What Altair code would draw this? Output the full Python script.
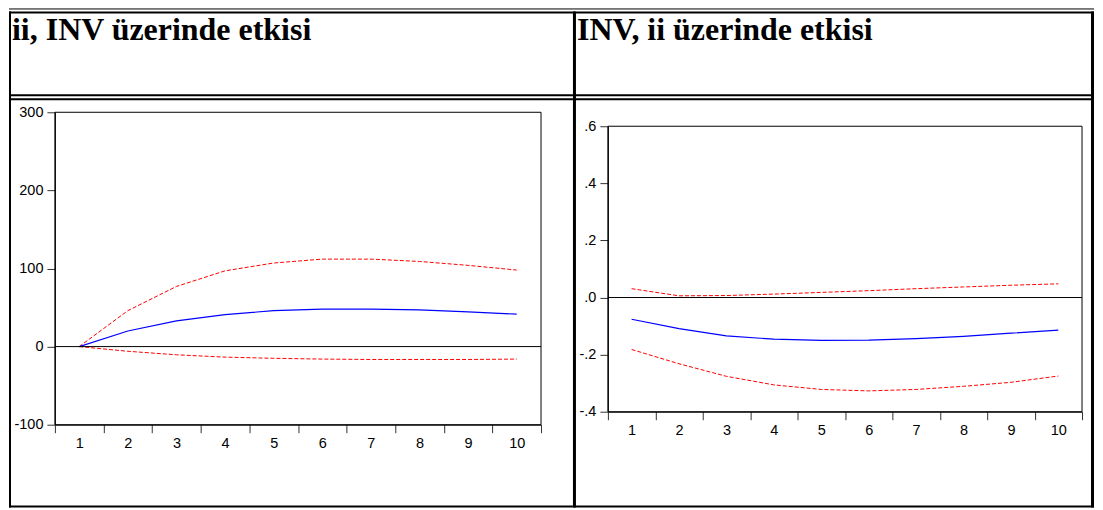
import altair as alt
import pandas as pd

# ---------------- data ----------------
horizons = [1, 2, 3, 4, 5, 6, 7, 8, 9, 10]

left_response = [0, 20, 33, 41, 46, 48, 48, 47, 44.5, 41.5]
left_upper = [0, 46, 77, 97, 107, 112, 112, 109, 104, 98]
left_lower = [0, -6, -10.5, -13.5, -15, -16, -16.5, -16.5, -16.5, -16]

right_response = [-0.076, -0.109, -0.134, -0.146, -0.150, -0.149, -0.144, -0.136, -0.125, -0.114]
right_upper = [0.031, 0.006, 0.007, 0.012, 0.018, 0.024, 0.031, 0.037, 0.043, 0.048]
right_lower = [-0.182, -0.232, -0.276, -0.306, -0.322, -0.327, -0.322, -0.311, -0.297, -0.275]

left_title = "ii, INV üzerinde etkisi"
right_title = "INV, ii üzerinde etkisi"
left_ticks = [-100, 0, 100, 200, 300]
right_ticks = [-0.4, -0.2, 0.0, 0.2, 0.4, 0.6]
left_domain = [-100, 300]
right_domain = [-0.4, 0.6]

AXIS_FONT = "Liberation Sans"
TITLE_FONT = "Liberation Serif"


def table(resp, up, lo):
    rows = []
    for h, r, u, l in zip(horizons, resp, up, lo):
        rows.append({"h": h, "value": r, "series": "response"})
        rows.append({"h": h, "value": u, "series": "upper"})
        rows.append({"h": h, "value": l, "series": "lower"})
    return pd.DataFrame(rows)


one = pd.DataFrame({"k": [0]})


def hrule(x1, x2, y, sw):
    return alt.Chart(one).mark_rule(color="black", strokeWidth=sw).encode(
        x=alt.value(x1), x2=alt.value(x2), y=alt.value(y), y2=alt.value(y))


def vrule(x, y1, y2, sw):
    return alt.Chart(one).mark_rule(color="black", strokeWidth=sw).encode(
        x=alt.value(x), x2=alt.value(x), y=alt.value(y1), y2=alt.value(y2))


def panel(df, W, H, domain, yrange, ticks, label_expr, title, title_x,
          borders):
    x_enc = alt.X(
        "h:O",
        scale=alt.Scale(type="band", paddingInner=0, paddingOuter=0),
        bandPosition=0.5,
        axis=alt.Axis(title=None, labelAngle=0, tickBand="extent",
                      tickSize=8, labelPadding=4, grid=False),
    )
    y_enc = alt.Y(
        "value:Q",
        scale=alt.Scale(domain=domain, range=yrange, nice=False, zero=False),
        axis=alt.Axis(title=None, values=ticks, labelExpr=label_expr,
                      tickSize=8, labelPadding=4, grid=False),
    )
    base = alt.Chart(df)
    resp = base.transform_filter(alt.datum.series == "response").mark_line(
        color="#0000FF", strokeWidth=1.2
    ).encode(x=x_enc, y=y_enc)
    bands = base.transform_filter(alt.datum.series != "response").mark_line(
        color="#FF0000", strokeWidth=1, strokeDash=[4, 2]
    ).encode(x=x_enc, y=y_enc, detail="series:N")
    frame = alt.Chart(one).mark_rect(
        fillOpacity=0, stroke="black", strokeWidth=1
    ).encode(x=alt.value(0), x2=alt.value(W),
             y=alt.Y(datum=domain[1], type="quantitative"),
             y2=alt.datum(domain[0]))
    zero = alt.Chart(one).mark_rule(color="black", strokeWidth=1).encode(
        x=alt.value(0), x2=alt.value(W),
        y=alt.Y(datum=0, type="quantitative"))
    head = alt.Chart(one).mark_text(
        align="left", baseline="alphabetic", font=TITLE_FONT,
        fontWeight="bold", fontSize=32, color="black"
    ).encode(x=alt.value(title_x), y=alt.value(-72), text=alt.value(title))
    layers = [bands, resp, frame, zero, head] + borders
    return alt.layer(*layers).properties(width=W, height=H)


BOTTOM = 395  # bottom border line (relative to plot origin)

# left cell: plot origin at page (54, 112)
left_borders = [
    hrule(-46, 519, -103.5, 1),
    hrule(-46, 519, -100, 2),
    vrule(-45, -101, BOTTOM + 1, 2),
    hrule(-46, 519, -17, 2),
    hrule(-46, 519, -13, 2),
    hrule(-46, 519, BOTTOM, 2),
]
# right cell: plot origin at page (608, 112); chart must stay within page x 1095
right_borders = [
    hrule(-35, 487, -103.5, 1),
    hrule(-35, 487, -100, 2),
    vrule(-33.5, -101, BOTTOM + 1, 3),
    vrule(485.5, -101, BOTTOM + 1, 3),
    hrule(-35, 487, -17, 2),
    hrule(-35, 487, -13, 2),
    hrule(-35, 487, BOTTOM, 2),
]

left_expr = "datum.value < 0 ? '-' + format(-datum.value, 'd') : format(datum.value, 'd')"
right_expr = "(datum.value < 0 ? '-' : '') + replace(format(abs(datum.value), '.1f'), '0.', '.')"

left = panel(table(left_response, left_upper, left_lower), 487, 313,
             left_domain, [313, 0], left_ticks, left_expr, left_title, -43,
             left_borders)
right = panel(table(right_response, right_upper, right_lower), 475, 300,
              right_domain, [300, 14], right_ticks, right_expr, right_title,
              -31, right_borders)

chart = alt.hconcat(left, right, spacing=67, bounds="flush").properties(
    padding=0
).configure_view(stroke=None).configure_axis(
    labelFont=AXIS_FONT, labelFontSize=14.5, labelColor="black",
    domainColor="black", tickColor="#333333", domainWidth=1, tickWidth=1,
)

chart.save("out.html", embed_options={"renderer": "svg", "actions": False})
